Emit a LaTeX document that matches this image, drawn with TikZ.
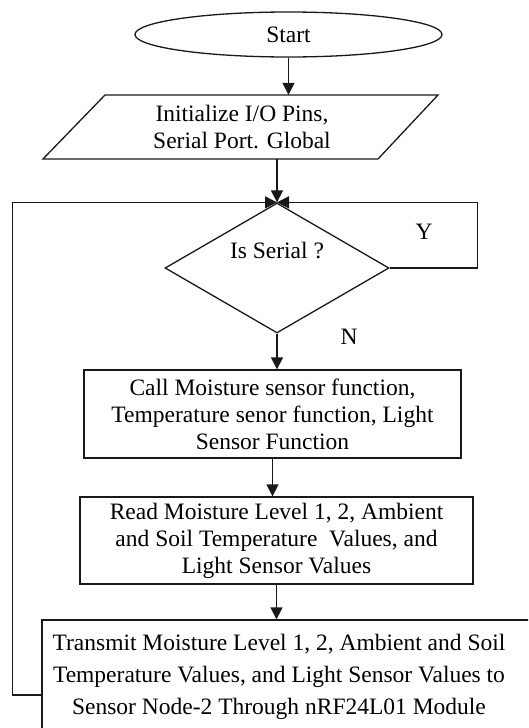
\documentclass[tikz,border=0pt]{standalone}
\usepackage{fontspec}
\setmainfont{Liberation Serif}
\usetikzlibrary{shapes.geometric,arrows.meta}
\begin{document}
\begin{tikzpicture}[x=1pt,y=-1pt,
  line/.style={draw=black!90, line width=1.3pt},
  arr/.style={line, -{Triangle[width=12pt,length=12pt]}},
  lbl/.style={font=\fontsize{23.5}{27}\selectfont, align=center, inner sep=0pt},
  box/.style={line, rectangle, inner sep=0pt, lbl},
]
\useasboundingbox[fill=white] (0,0) rectangle (528,728);
\clip (0,0) rectangle (528,728);

\node[line, ellipse, minimum width=307pt, minimum height=45pt, inner sep=0pt, lbl] (start) at (288.5,34.5) {Start};

\node[lbl, minimum height=64pt] (init) at (242,127) {Initialize I/O Pins,\\Serial Port. Global};
\draw[line] (105,95) -- (438,95) -- (378,159) -- (43,159) -- cycle;

\node[line, diamond, minimum width=224pt, minimum height=130pt, inner sep=0pt] (dia) at (277,268) {};
\node[lbl] (q) at (277,251) {Is Serial ?};
\node[lbl] (ylab) at (424,232) {Y};
\node[lbl] (nlab) at (349,337) {N};

\node[box, minimum width=377pt, minimum height=88pt] (b1) at (272.5,414) {Call Moisture sensor function,\\Temperature senor function, Light\\Sensor Function};
\node[box, minimum width=393pt, minimum height=87pt] (b2) at (276.5,540.5) {Read Moisture Level 1, 2, Ambient\\and Soil Temperature\ \ Values, and\\Light Sensor Values};

\node[line, rectangle, inner sep=0pt, minimum width=518pt, minimum height=150pt] (tx) at (301,695) {};
\node[lbl, font=\fontsize{23.5}{32}\selectfont] (txt) at (279,677) {Transmit Moisture Level 1, 2, Ambient and Soil\\Temperature Values, and Light Sensor Values to\\Sensor Node-2 Through nRF24L01 Module};

\draw[arr] (start.south) -- (start.south |- init.north);
\draw[arr] (dia.north |- init.south) -- (dia.north);
\draw[arr] (dia.east) -- ++(88,0) |- (dia.north);
\draw[arr] (tx.west) -- ++(-29,0) |- (dia.north);
\draw[arr] (dia.south) -- (dia.south |- b1.north);
\draw[arr] (b1.south) -- (b1.south |- b2.north);
\draw[arr] (b2.south) -- (b2.south |- tx.north);
\end{tikzpicture}
\end{document}
